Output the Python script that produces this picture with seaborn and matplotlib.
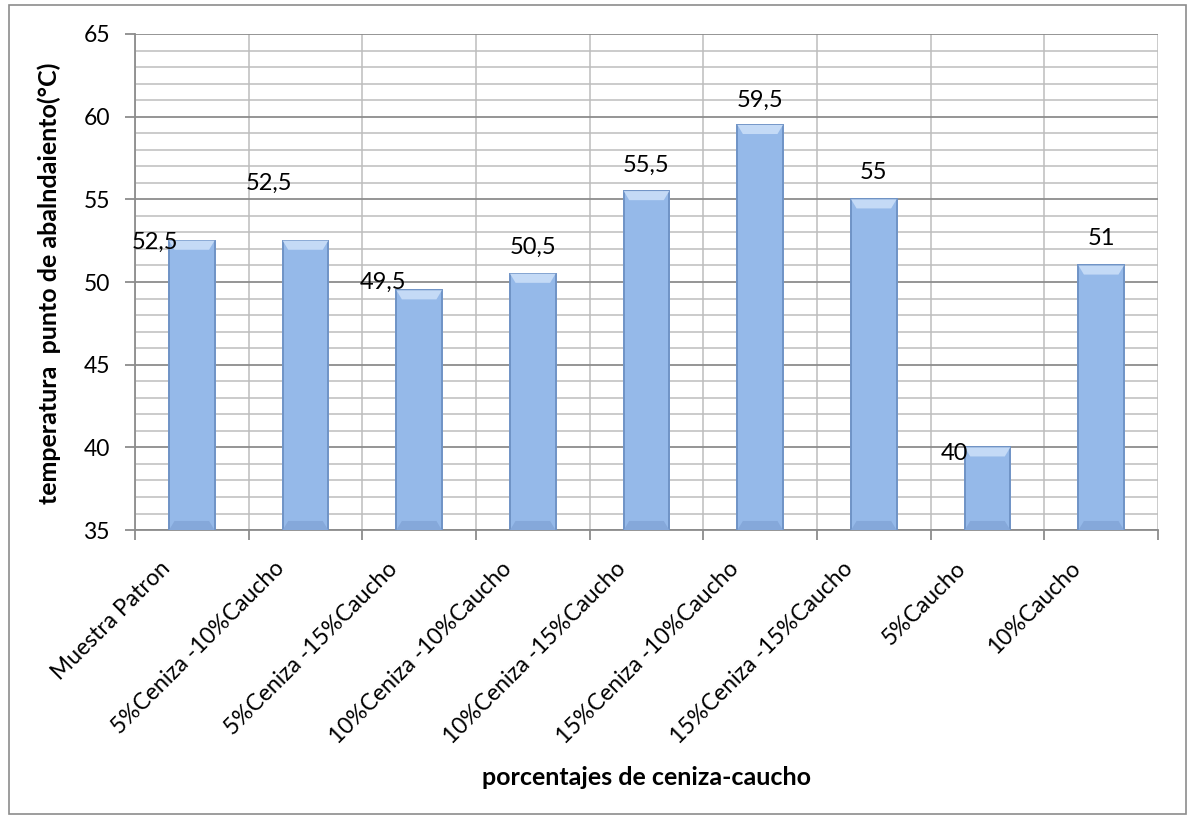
import matplotlib
matplotlib.use("Agg")
import matplotlib.pyplot as plt
import matplotlib.transforms as mtransforms
from matplotlib.patches import Rectangle, Polygon
from matplotlib.ticker import MultipleLocator, FixedLocator
import seaborn as sns
import pandas as pd

categories = [
    "Muestra Patron",
    "5%Ceniza -10%Caucho",
    "5%Ceniza -15%Caucho",
    "10%Ceniza -10%Caucho",
    "10%Ceniza -15%Caucho",
    "15%Ceniza -10%Caucho",
    "15%Ceniza -15%Caucho",
    "5%Caucho",
    "10%Caucho",
]
temperatures = [52.5, 52.5, 49.5, 50.5, 55.5, 59.5, 55.0, 40.0, 51.0]

# placement of each value label relative to its bar (x in category units, y in °C)
label_dx = [-0.32, -0.32, -0.32, 0.0, 0.0, 0.0, 0.0, -0.29, 0.0]
label_dy = [-0.1, 3.45, 0.5, 1.6, 1.55, 1.5, 1.6, -0.35, 1.65]

df = pd.DataFrame({"categoria": categories, "temp": temperatures})

sns.set_theme(style="white")
plt.rcParams["font.family"] = ["Lato", "DejaVu Sans"]
plt.rcParams["text.color"] = "black"
plt.rcParams["axes.labelcolor"] = "black"
plt.rcParams["xtick.color"] = "black"
plt.rcParams["ytick.color"] = "black"

fig = plt.figure(figsize=(11.87, 8.21), dpi=100)
ax = fig.add_axes([0.1137, 0.3544, 0.8619, 0.6042])

bar_face = "#95B9E9"
bar_edge = "#6F93C6"
sns.barplot(data=df, x="categoria", y="temp", color=bar_face, width=0.4,
            edgecolor=bar_edge, linewidth=1.4, saturation=1, ax=ax, zorder=3)

# bevelled look: light top cap and darker base on each bar
for p in ax.patches:
    x0, w = p.get_x(), p.get_width()
    top = p.get_height()
    cap = 0.55
    ax.add_patch(Polygon([(x0, top), (x0 + w, top), (x0 + w * 0.88, top - cap),
                          (x0 + w * 0.12, top - cap)], closed=True,
                         facecolor="#C4DAF6", edgecolor="none", zorder=4))
    ax.add_patch(Polygon([(x0, 35), (x0 + w, 35), (x0 + w * 0.88, 35 + cap),
                          (x0 + w * 0.12, 35 + cap)], closed=True,
                         facecolor="#85A8DA", edgecolor="none", zorder=4))

ax.set_ylim(35, 65)
ax.set_xlim(-0.5, len(categories) - 0.5)

ax.yaxis.set_major_locator(MultipleLocator(5))
ax.yaxis.set_minor_locator(MultipleLocator(1))
ax.xaxis.set_minor_locator(FixedLocator([i - 0.5 for i in range(len(categories) + 1)]))

ax.grid(which="major", axis="y", color="#8C8C8C", linewidth=1.3, zorder=0)
ax.grid(which="minor", axis="y", color="#BDBDBD", linewidth=1.1, zorder=0)
ax.grid(which="minor", axis="x", color="#BDBDBD", linewidth=1.1, zorder=0)
ax.set_axisbelow(True)

for side in ["top", "right"]:
    ax.spines[side].set_visible(False)
for side in ["left", "bottom"]:
    ax.spines[side].set_color("#8C8C8C")
    ax.spines[side].set_linewidth(1.3)

ax.tick_params(axis="y", which="major", direction="out", length=7, width=1.3,
               color="#8C8C8C", labelsize=16.5, pad=11, left=True)
ax.tick_params(axis="y", which="minor", length=0)
ax.tick_params(axis="x", which="major", length=0, labelsize=16.5, pad=20)
ax.tick_params(axis="x", which="minor", direction="out", length=7, width=1.3,
               color="#8C8C8C", bottom=True)

ax.set_xticks(range(len(categories)))
ax.set_xticklabels(categories, rotation=45, ha="right", rotation_mode="anchor")
shift = mtransforms.ScaledTranslation(-32 / 100, 0, fig.dpi_scale_trans)
for lbl in ax.get_xticklabels():
    lbl.set_transform(lbl.get_transform() + shift)

ax.set_xlabel("porcentajes de ceniza-caucho", fontsize=18, fontweight="bold")
ax.xaxis.set_label_coords(0.5, -0.476)
ax.set_ylabel("temperatura  punto de abalndaiento(°C)", fontsize=18, fontweight="bold")
ax.yaxis.set_label_coords(-0.072, 0.498)

for i, v in enumerate(temperatures):
    txt = f"{v:g}".replace(".", ",")
    ax.text(i + label_dx[i], v + label_dy[i], txt, ha="center", va="center",
            fontsize=17, color="black", zorder=5)

# outer chart frame
fig.patches.append(Rectangle((0.0076, 0.008), 0.9916, 0.986, transform=fig.transFigure,
                             fill=False, edgecolor="#8C8C8C", linewidth=1.2))

fig.savefig("out.png", dpi=100)
